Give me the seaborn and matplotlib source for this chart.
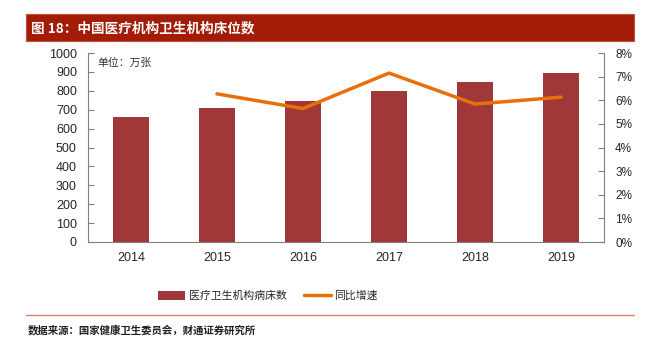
import matplotlib
matplotlib.use("Agg")
import matplotlib.pyplot as plt
import seaborn as sns
import pandas as pd
from matplotlib.patches import Rectangle, Patch
from matplotlib.lines import Line2D
from matplotlib.ticker import FuncFormatter, MultipleLocator

sns.set_style("white")
plt.rcParams['font.family'] = ['Noto Sans CJK SC', 'DejaVu Sans']

years = ['2014', '2015', '2016', '2017', '2018', '2019']
beds = [661, 707, 745, 800, 845, 895]
growth_years = ['2015', '2016', '2017', '2018', '2019']
growth = [6.27, 5.65, 7.15, 5.84, 6.13]

bar_label = '医疗卫生机构病床数'
line_label = '同比增速'
title = '图 18：中国医疗机构卫生机构床位数'
unit = '单位：万张'
source = '数据来源：国家健康卫生委员会，财通证券研究所'

bar_color = '#A0383A'
line_color = '#E8700C'
num_font = ['Liberation Sans', 'DejaVu Sans']

W, H = 650, 347
fig = plt.figure(figsize=(W/100, H/100), dpi=100)

# title band
fig.patches.append(Rectangle((26/W, 1-41/H), 608/W, 27/H, transform=fig.transFigure,
                             facecolor='#A21C08', edgecolor='#C0503A', lw=0.8, zorder=0))
fig.text(31/W, 1-28/H, title, color='white', fontsize=9.8, fontweight='bold',
         va='center', ha='left')

ax = fig.add_axes([88/W, 1-242/H, 516/W, 189/H])
df = pd.DataFrame({'year': years, 'beds': beds})
sns.barplot(data=df, x='year', y='beds', ax=ax, color=bar_color, width=0.43,
            saturation=1, edgecolor='none')
ax.set_xlim(-0.5, len(years)-0.5)
ax.set_ylim(0, 1000)
ax.yaxis.set_major_locator(MultipleLocator(100))
ax.set_xlabel('')
ax.set_ylabel('')
for s in ['top', 'right']:
    ax.spines[s].set_visible(False)
for s in ['left', 'bottom']:
    ax.spines[s].set_color('#808080')
    ax.spines[s].set_linewidth(0.8)
ax.tick_params(axis='y', direction='in', length=4, color='#808080', labelsize=9, pad=8)
ax.tick_params(axis='x', length=0, labelsize=9, pad=7)
ax.set_xticks(range(len(years)))
ax.set_xticks([i + 0.5 for i in range(len(years)-1)], minor=True)
ax.tick_params(axis='x', which='minor', direction='in', length=4, color='#808080')

ax2 = ax.twinx()
gx = [years.index(y) for y in growth_years]
gdf = pd.DataFrame({'x': gx, 'g': growth})
sns.lineplot(data=gdf, x='x', y='g', ax=ax2, color=line_color, lw=2.5)
ax2.set_ylim(0, 8)
ax2.set_xlim(-0.5, len(years)-0.5)
ax2.yaxis.set_major_locator(MultipleLocator(1))
ax2.yaxis.set_major_formatter(FuncFormatter(lambda v, p: f'{int(v)}%'))
ax2.set_ylabel('')
for s in ['top', 'left', 'bottom']:
    ax2.spines[s].set_visible(False)
ax2.spines['right'].set_color('#808080')
ax2.spines['right'].set_linewidth(0.8)
ax2.tick_params(axis='y', direction='in', length=4, color='#808080', labelsize=8.5, pad=8)

for lab in ax.get_xticklabels() + ax.get_yticklabels() + ax2.get_yticklabels():
    lab.set_fontfamily(num_font)

ax.text(0.018, 0.975, unit, transform=ax.transAxes, fontsize=7.8, va='top', ha='left', color='#333333')

handles = [Patch(facecolor=bar_color, edgecolor='none'),
           Line2D([], [], color=line_color, lw=2.5)]
fig.legend(handles, [bar_label, line_label], loc='center', bbox_to_anchor=(268/W, 1-296/H),
           ncol=2, frameon=False, fontsize=7.8, handlelength=2.5, handleheight=0.9,
           columnspacing=1.6, handletextpad=0.3)

fig.add_artist(Line2D([26/W, 634/W], [1-315/H, 1-315/H], transform=fig.transFigure,
                      color='#D88070', lw=1))
fig.text(28/W, 1-330/H, source, fontsize=7.5, fontweight='bold', va='center', ha='left', color='#222222')

fig.savefig('out.png', dpi=100)
